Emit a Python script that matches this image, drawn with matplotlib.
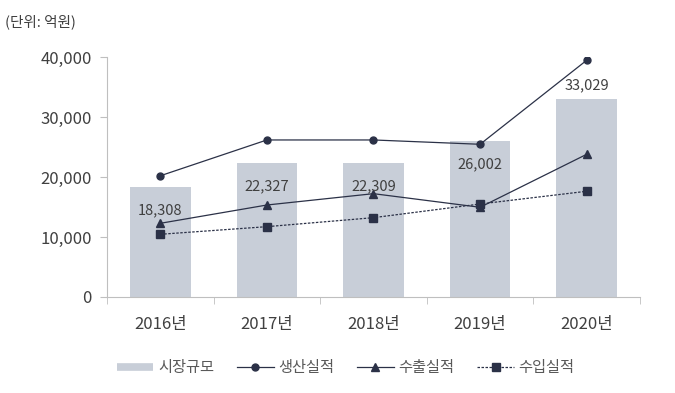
import numpy as np
import matplotlib.pyplot as plt
from matplotlib.lines import Line2D

plt.rcParams['font.family'] = ['Noto Sans CJK KR', 'DejaVu Sans']

# Data
years = ['2016년', '2017년', '2018년', '2019년', '2020년']
market = [18308, 22327, 22309, 26002, 33029]
production = [20200, 26170, 26170, 25450, 39450]
export = [12280, 15330, 17220, 14950, 23780]
imports = [10450, 11720, 13220, 15500, 17620]

bar_color = '#C8CED8'
line_color = '#2B3147'
axis_color = '#BFBFBF'

fig = plt.figure(figsize=(6.75, 3.93), dpi=100)
ax = fig.add_axes([0.1585, 0.2443, 0.7896, 0.6107])

x = np.arange(len(years))
ax.bar(x, market, width=0.57, color=bar_color, zorder=1)
l1, = ax.plot(x, production, color=line_color, lw=0.9, marker='o', ms=5, label='생산실적', zorder=3)
l2, = ax.plot(x, export, color=line_color, lw=0.9, marker='^', ms=5.5, label='수출실적', zorder=3)
l3, = ax.plot(x, imports, color=line_color, lw=0.9, ls=(0, (2, 1.2)), marker='s', ms=5.5,
              label='수입실적', zorder=3)

# bar value labels: inside near top, last one above the bar
for i, v in enumerate(market):
    off = 10 if i == len(market) - 1 else -17
    ax.annotate(f'{v:,}', (x[i], v), xytext=(0, off), textcoords='offset points',
                ha='center', va='center', fontsize=10.5, color='#404040', zorder=4)

ax.set_xlim(-0.5, len(years) - 0.5)
ax.set_ylim(0, 40000)
ax.set_yticks(np.arange(0, 40001, 10000))
ax.set_yticklabels([f'{t:,}' for t in range(0, 40001, 10000)])
ax.set_xticks(x)
ax.set_xticklabels(years)
ax.set_xticks(np.arange(-0.5, len(years), 1), minor=True)

ax.tick_params(axis='y', labelsize=12, colors=axis_color, labelcolor='#404040', length=5, pad=6)
ax.tick_params(axis='x', which='major', length=0, labelsize=12, labelcolor='#404040', pad=14)
ax.tick_params(axis='x', which='minor', length=5, color=axis_color)

for s in ['top', 'right']:
    ax.spines[s].set_visible(False)
for s in ['left', 'bottom']:
    ax.spines[s].set_color(axis_color)

fig.text(0.008, 0.945, '(단위: 억원)', fontsize=10.5, color='#404040', va='center')

bar_handle = Line2D([], [], color=bar_color, lw=5.5, solid_capstyle='butt')
fig.legend([bar_handle, l1, l2, l3], ['시장규모', '생산실적', '수출실적', '수입실적'],
           loc='center', bbox_to_anchor=(0.512, 0.064), ncol=4, frameon=False,
           fontsize=11, labelcolor='#595959', handlelength=2.4, handletextpad=0.3,
           columnspacing=1.5)

fig.savefig('out.png', dpi=100)
